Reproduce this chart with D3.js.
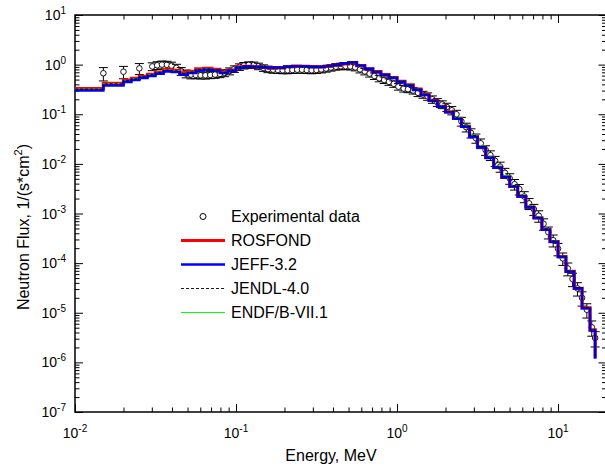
<!DOCTYPE html>
<html>
<head>
<meta charset="utf-8">
<script src="https://cdn.jsdelivr.net/npm/d3@7"></script>
<style>
  body { margin: 0; background: #fff; }
  text { font-family: Arial, "Liberation Sans", sans-serif; fill: #000; }
</style>
</head>
<body>
<div id="chart"></div>
<script>
// group boundaries, MeV (the calculated spectra are drawn as step histograms)
const binEdges = [
  0.01, 0.015, 0.02, 0.0224, 0.0251, 0.0282, 0.0316, 0.0355, 0.0398, 0.0447,
  0.0501, 0.0562, 0.0631, 0.0708, 0.0794, 0.0891, 0.1, 0.112, 0.126, 0.141,
  0.158, 0.178, 0.2, 0.224, 0.251, 0.282, 0.316, 0.355, 0.398, 0.447,
  0.501, 0.562, 0.631, 0.708, 0.794, 0.891, 1.0, 1.12, 1.26, 1.41,
  1.58, 1.78, 2.0, 2.24, 2.51, 2.82, 3.16, 3.55, 3.98, 4.47,
  5.01, 5.62, 6.31, 7.08, 7.94, 8.91, 10.0, 11.2, 12.6, 14.1,
  15.8, 17.0
];

// flux per group; the last value is the level the line drops to at the last edge
const rosfond = [
  0.33, 0.42, 0.49, 0.53, 0.58, 0.64, 0.71, 0.80, 0.77, 0.68,
  0.73, 0.82, 0.84, 0.80, 0.71, 0.78, 0.90, 0.92, 0.90, 0.88,
  0.85, 0.86, 0.91, 0.93, 0.92, 0.91, 0.90, 0.93, 0.97, 1.04,
  1.10, 0.95, 0.82, 0.72, 0.63, 0.55, 0.46, 0.39, 0.32, 0.25,
  0.19, 0.145, 0.112, 0.083, 0.057, 0.036, 0.022, 0.0135, 0.0085, 0.0055,
  0.0035, 0.0022, 0.00135, 0.00082, 0.00048, 0.00027, 0.000135, 0.000068, 0.000031, 0.0000125,
  0.0000045, 0.0000012
];
const jeff = [
  0.30, 0.38, 0.45, 0.49, 0.54, 0.59, 0.66, 0.73, 0.71, 0.63,
  0.68, 0.76, 0.79, 0.76, 0.68, 0.75, 0.87, 0.91, 0.90, 0.88,
  0.86, 0.87, 0.91, 0.93, 0.92, 0.90, 0.90, 0.93, 0.98, 1.06,
  1.12, 0.96, 0.82, 0.71, 0.62, 0.54, 0.45, 0.38, 0.31, 0.245,
  0.187, 0.142, 0.110, 0.081, 0.056, 0.035, 0.0215, 0.0132, 0.0084, 0.0054,
  0.0035, 0.0022, 0.00133, 0.00081, 0.00047, 0.00027, 0.000133, 0.000067, 0.000031, 0.0000123,
  0.0000044, 0.0000012
];
const jendl = [
  0.32, 0.41, 0.48, 0.52, 0.57, 0.63, 0.70, 0.78, 0.75, 0.66,
  0.71, 0.80, 0.82, 0.78, 0.70, 0.77, 0.89, 0.91, 0.89, 0.87,
  0.85, 0.86, 0.90, 0.92, 0.91, 0.90, 0.90, 0.93, 0.97, 1.04,
  1.09, 0.95, 0.82, 0.72, 0.63, 0.55, 0.46, 0.39, 0.32, 0.25,
  0.19, 0.146, 0.113, 0.084, 0.058, 0.037, 0.0225, 0.0138, 0.0087, 0.0056,
  0.0036, 0.0023, 0.00138, 0.00084, 0.00049, 0.00028, 0.000138, 0.000069, 0.000032, 0.0000128,
  0.0000046, 0.0000012
];
const endf = [
  0.32, 0.41, 0.48, 0.52, 0.57, 0.63, 0.70, 0.78, 0.75, 0.66,
  0.71, 0.80, 0.83, 0.79, 0.70, 0.77, 0.89, 0.91, 0.89, 0.87,
  0.85, 0.86, 0.90, 0.92, 0.91, 0.90, 0.90, 0.93, 0.97, 1.05,
  1.10, 0.95, 0.82, 0.72, 0.63, 0.55, 0.46, 0.39, 0.32, 0.25,
  0.19, 0.146, 0.114, 0.087, 0.060, 0.038, 0.023, 0.0142, 0.0090, 0.0058,
  0.0037, 0.0023, 0.00140, 0.00085, 0.00049, 0.00028, 0.000137, 0.000069, 0.000031, 0.0000126,
  0.0000045, 0.0000012
];

// measured spectrum: energy (MeV), flux, relative error
const expE = [
  0.0150, 0.0200, 0.0251, 0.0302, 0.0324, 0.0347, 0.0372, 0.0398, 0.0427, 0.0457,
  0.0490, 0.0525, 0.0562, 0.0603, 0.0646, 0.0692, 0.0741, 0.0794, 0.0851, 0.0912,
  0.0977, 0.105, 0.112, 0.120, 0.129, 0.138, 0.148, 0.158, 0.170, 0.182,
  0.195, 0.209, 0.224, 0.240, 0.257, 0.275, 0.295, 0.316, 0.339, 0.363,
  0.389, 0.417, 0.447, 0.479, 0.513, 0.550, 0.589, 0.631, 0.676, 0.724,
  0.776, 0.832, 0.891, 0.955, 1.02, 1.10, 1.17, 1.26, 1.35, 1.45,
  1.55, 1.66, 1.78, 1.91, 2.04, 2.19, 2.34, 2.51, 2.69, 2.88,
  3.09, 3.31, 3.55, 3.80, 4.07, 4.37, 4.68, 5.01, 5.37, 5.75,
  6.17, 6.61, 7.08, 7.59, 8.13, 8.71, 9.33, 10.0, 10.7, 11.5,
  12.3, 13.2, 14.1, 15.1, 16.2, 17.0
];
const expF = [
  0.67, 0.72, 0.84, 0.92, 0.97, 1.00, 0.99, 0.95, 0.86, 0.74,
  0.66, 0.63, 0.62, 0.61, 0.61, 0.62, 0.63, 0.65, 0.68, 0.74,
  0.82, 0.90, 0.96, 0.99, 0.98, 0.93, 0.86, 0.81, 0.79, 0.78,
  0.77, 0.77, 0.78, 0.79, 0.79, 0.78, 0.77, 0.78, 0.80, 0.83,
  0.87, 0.91, 0.93, 0.93, 0.92, 0.88, 0.80, 0.73, 0.66, 0.59,
  0.53, 0.49, 0.45, 0.41, 0.36, 0.33, 0.32, 0.30, 0.27, 0.25,
  0.23, 0.20, 0.175, 0.158, 0.14, 0.12, 0.10, 0.072, 0.055, 0.042,
  0.033, 0.026, 0.019, 0.015, 0.0115, 0.0088, 0.0066, 0.0051, 0.0039, 0.0031,
  0.0022, 0.0016, 0.00122, 0.00090, 0.00062, 0.00042, 0.00029, 0.000195, 0.000125, 0.000078,
  0.000048, 0.000031, 0.000020, 0.0000115, 0.0000051, 0.0000031
];
const expErr = [
  0.30, 0.28, 0.25, 0.18, 0.18, 0.18, 0.18, 0.18, 0.18, 0.18,
  0.18, 0.18, 0.16, 0.16, 0.16, 0.16, 0.16, 0.16, 0.16, 0.16,
  0.15, 0.15, 0.15, 0.15, 0.15, 0.15, 0.15, 0.15, 0.15, 0.15,
  0.15, 0.15, 0.15, 0.15, 0.15, 0.15, 0.15, 0.15, 0.15, 0.15,
  0.15, 0.15, 0.15, 0.15, 0.15, 0.15, 0.15, 0.15, 0.15, 0.15,
  0.15, 0.15, 0.15, 0.15, 0.15, 0.15, 0.15, 0.15, 0.16, 0.16,
  0.17, 0.17, 0.18, 0.18, 0.19, 0.19, 0.20, 0.20, 0.20, 0.21,
  0.21, 0.22, 0.22, 0.22, 0.23, 0.23, 0.23, 0.24, 0.24, 0.24,
  0.25, 0.25, 0.25, 0.26, 0.26, 0.27, 0.27, 0.28, 0.28, 0.29,
  0.30, 0.30, 0.32, 0.32, 0.34, 0.34
];

const seriesNames = ["ROSFOND", "JEFF-3.2", "JENDL-4.0", "ENDF/B-VII.1"];
const xTickExps = [-2, -1, 0, 1];
const yTickExps = [1, 0, -1, -2, -3, -4, -5, -6, -7];

const width = 605, height = 470;
const plot = { left: 75, top: 15, right: 606.5, bottom: 412 };

const svg = d3.select("#chart").append("svg")
  .attr("width", width)
  .attr("height", height);

const x = d3.scaleLog().domain([0.01, 20]).range([plot.left, plot.right]);
const y = d3.scaleLog().domain([1e-7, 10]).range([plot.bottom, plot.top]);

svg.append("clipPath").attr("id", "clip")
  .append("rect")
  .attr("x", plot.left).attr("y", plot.top)
  .attr("width", plot.right - plot.left).attr("height", plot.bottom - plot.top);

// minor ticks 2..9 in each decade
function minorTicks(lo, hi) {
  let out = [];
  for (let e = lo; e <= hi; e++) {
    for (let k = 2; k <= 9; k++) {
      out.push(k * Math.pow(10, e));
    }
  }
  return out;
}
const xMajor = d3.range(-2, 2).map(e => Math.pow(10, e));
const xMinor = minorTicks(-2, 1).filter(v => v <= 20);
const yMajor = d3.range(-7, 2).map(e => Math.pow(10, e));
const yMinor = minorTicks(-7, 0);

function addAxis(axisFn, scale, vals, size, tr) {
  const g = svg.append("g")
    .attr("transform", tr)
    .call(axisFn(scale).tickValues(vals).tickSize(size).tickFormat(""));
  g.select(".domain").remove();
  g.selectAll("line").attr("stroke", "#000").attr("stroke-width", 1);
}

addAxis(d3.axisBottom, x, xMajor, -8, `translate(0,${plot.bottom})`);
addAxis(d3.axisBottom, x, xMinor, -4.5, `translate(0,${plot.bottom})`);
addAxis(d3.axisTop, x, xMajor, -8, `translate(0,${plot.top})`);
addAxis(d3.axisTop, x, xMinor, -4.5, `translate(0,${plot.top})`);
addAxis(d3.axisLeft, y, yMajor, -8, `translate(${plot.left},0)`);
addAxis(d3.axisLeft, y, yMinor, -4.5, `translate(${plot.left},0)`);
addAxis(d3.axisRight, y, yMajor, -8, `translate(${plot.right},0)`);
addAxis(d3.axisRight, y, yMinor, -4.5, `translate(${plot.right},0)`);

svg.append("rect")
  .attr("x", plot.left).attr("y", plot.top)
  .attr("width", plot.right - plot.left).attr("height", plot.bottom - plot.top)
  .attr("fill", "none").attr("stroke", "#000").attr("stroke-width", 1.5);

// tick labels as 10^n
xTickExps.forEach(e => {
  const t = svg.append("text")
    .attr("x", x(Math.pow(10, e)))
    .attr("y", 438)
    .attr("text-anchor", "middle")
    .style("font-size", "14px");
  t.append("tspan").text("10");
  t.append("tspan").attr("dy", -6).style("font-size", "10px").text(e);
});
yTickExps.forEach(e => {
  const t = svg.append("text")
    .attr("x", 66)
    .attr("y", y(Math.pow(10, e)) + 5)
    .attr("text-anchor", "end")
    .style("font-size", "14px");
  t.append("tspan").text("10");
  t.append("tspan").attr("dy", -6).style("font-size", "10px").text(e);
});

// axis titles
svg.append("text")
  .attr("x", 331).attr("y", 461)
  .attr("text-anchor", "middle")
  .style("font-size", "16px")
  .text("Energy, MeV");

const yt = svg.append("text")
  .attr("transform", "translate(29,227) rotate(-90)")
  .attr("text-anchor", "middle")
  .style("font-size", "16px");
yt.append("tspan").text("Neutron Flux, 1/(s*cm");
yt.append("tspan").attr("dy", -7).style("font-size", "11px").text("2");
yt.append("tspan").attr("dy", 7).text(")");

// experimental points with error bars (under the calculated lines)
const expData = expE.map((e, i) => ({ e: e, f: expF[i], err: expErr[i] }));
const pg = svg.append("g");
const pt = pg.selectAll("g").data(expData).join("g");
pt.append("line")
  .attr("x1", d => x(d.e)).attr("x2", d => x(d.e))
  .attr("y1", d => y(d.f * (1 + d.err))).attr("y2", d => y(d.f * (1 - d.err)))
  .attr("stroke", "#000").attr("stroke-width", 1);
pt.append("line")
  .attr("x1", d => x(d.e) - 4.5).attr("x2", d => x(d.e) + 4.5)
  .attr("y1", d => y(d.f * (1 + d.err))).attr("y2", d => y(d.f * (1 + d.err)))
  .attr("stroke", "#000").attr("stroke-width", 1);
pt.append("line")
  .attr("x1", d => x(d.e) - 4.5).attr("x2", d => x(d.e) + 4.5)
  .attr("y1", d => y(d.f * (1 - d.err))).attr("y2", d => y(d.f * (1 - d.err)))
  .attr("stroke", "#000").attr("stroke-width", 1);
pt.append("circle")
  .attr("cx", d => x(d.e)).attr("cy", d => y(d.f))
  .attr("r", 2.8)
  .attr("fill", "#fff").attr("stroke", "#000").attr("stroke-width", 0.9);

// step histograms
const step = d3.line()
  .x(d => x(d[0]))
  .y(d => y(d[1]))
  .curve(d3.curveStepAfter);

const styles = [
  { data: rosfond, color: "#ff0000", w: 3.2, dash: null },
  { data: jeff, color: "#0000ff", w: 2.6, dash: null },
  { data: jendl, color: "#000", w: 0.9, dash: "3,2" },
  { data: endf, color: "#00ff00", w: 1, dash: null }
];
// drawing order: red, green, blue, dashed black
const drawOrder = [0, 3, 1, 2];

const lines = svg.append("g").attr("clip-path", "url(#clip)");
drawOrder.forEach(k => {
  const s = styles[k];
  const pts = binEdges.map((e, i) => [e, s.data[i]]);
  lines.append("path")
    .datum(pts)
    .attr("d", step)
    .attr("fill", "none")
    .attr("stroke", s.color)
    .attr("stroke-width", s.w)
    .attr("stroke-dasharray", s.dash);
});

// legend
const legend = svg.append("g");
legend.append("circle")
  .attr("cx", 203).attr("cy", 216.5).attr("r", 3)
  .attr("fill", "#fff").attr("stroke", "#000").attr("stroke-width", 1);
legend.append("text")
  .attr("x", 231).attr("y", 216.5).attr("dy", "0.36em")
  .style("font-size", "16px")
  .text("Experimental data");
seriesNames.forEach((name, i) => {
  const ly = 240.5 + i * 24;
  legend.append("line")
    .attr("x1", 181).attr("x2", 225)
    .attr("y1", ly).attr("y2", ly)
    .attr("stroke", styles[i].color)
    .attr("stroke-width", styles[i].w)
    .attr("stroke-dasharray", styles[i].dash);
  legend.append("text")
    .attr("x", 231).attr("y", ly).attr("dy", "0.36em")
    .style("font-size", "16px")
    .text(name);
});
</script>
</body>
</html>
